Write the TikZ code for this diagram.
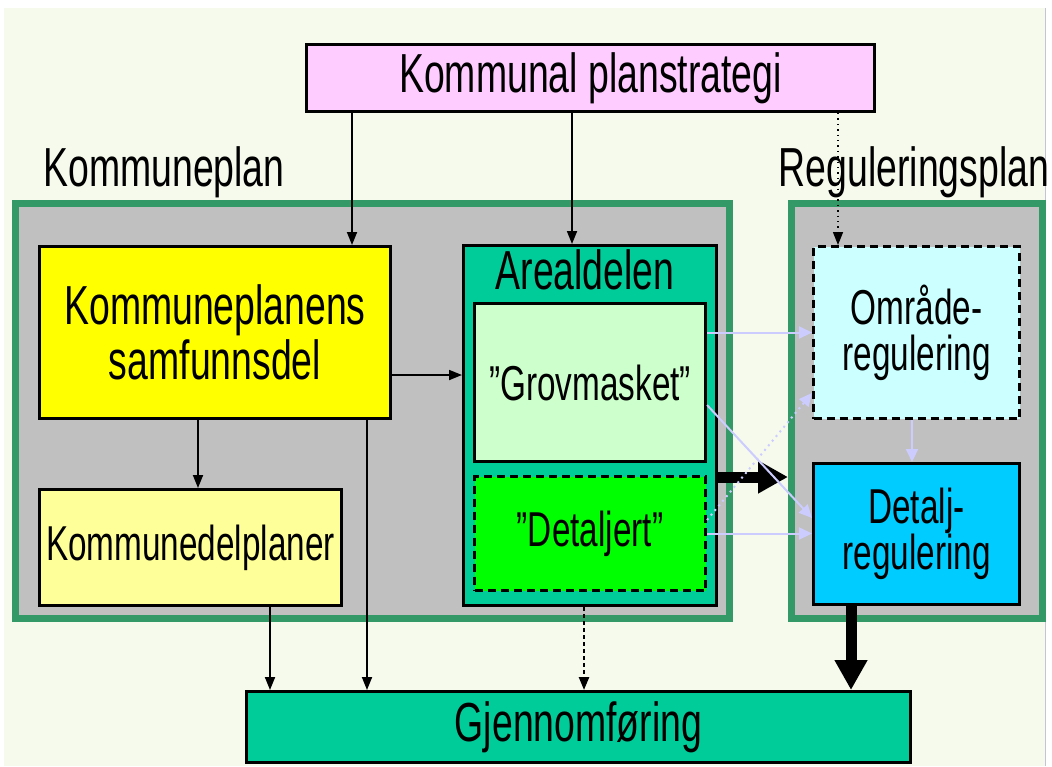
\documentclass[tikz,border=0pt]{standalone}
\usepackage{fontspec}
\setmainfont{Liberation Sans}[FakeStretch=0.68]
\usetikzlibrary{arrows.meta}

\definecolor{pagebg}{RGB}{245,250,237}
\definecolor{planpink}{HTML}{FFCCFF}
\definecolor{framegray}{HTML}{C0C0C0}
\definecolor{framegreen}{HTML}{339966}
\definecolor{samfyellow}{HTML}{FFFF00}
\definecolor{delyellow}{HTML}{FFFF99}
\definecolor{arealgreen}{HTML}{00CC99}
\definecolor{grovgreen}{HTML}{CCFFCC}
\definecolor{detgreen}{HTML}{00FF00}
\definecolor{omrcyan}{HTML}{CCFFFF}
\definecolor{detcyan}{HTML}{00CCFF}
\definecolor{lilac}{HTML}{CCCCFF}

\begin{document}
\begin{tikzpicture}[
            x = 0.5pt, y = -0.5pt, % one unit per pixel
            > = {Triangle[length=6.5pt,width=5pt]}, % arrow head style
            line width = 0.9pt,
            box/.style = {shape=rectangle,draw,line width=1.5pt,inner sep=0pt,align=center},
            frame/.style = {shape=rectangle,draw=framegreen,fill=framegray,line width=3.5pt},
            big/.style = {font=\fontsize{27.5}{27.5}\selectfont},
            small/.style = {font=\fontsize{24.5}{23}\selectfont},
            lilacarrow/.style = {draw=lilac,line width=1pt,-{Triangle[length=6.5pt,width=6pt]}},
            fat/.style = {line width=5.5pt,-{Triangle[length=15pt,width=15.5pt]}},
            dashbox/.style = {dash pattern=on 4pt off 2.5pt}
        ]
        \useasboundingbox (0,0) rectangle (1052,766);
        \fill[white] (0,0) rectangle (1052,766);
        \fill[pagebg] (4,8) rectangle (1045,766);
        \draw[line width=0.5pt,blue!15!gray!40] (1045.5,8) -- (1045.5,766);

        % outer frames
        \node[frame,minimum width=357pt,minimum height=207.5pt]   (kplan) at (372.5,411) {};
        \node[frame,minimum width=125.5pt,minimum height=207.5pt] (rplan) at (917,411)   {};
        \node[big] (kplanlabel) at (164,172) {Kommuneplan};
        \node[big] (rplanlabel) at (914,172) {Reguleringsplan};

        % boxes
        \node[box,big,fill=planpink,minimum width=284pt,minimum height=33.5pt]   (strategi) at (590.5,78)    {Kommunal planstrategi};
        \node[box,big,fill=samfyellow,minimum width=175.5pt,minimum height=86pt] (samf)     at (215,332.5)   {Kommuneplanens\\samfunnsdel};
        \node[box,small,fill=delyellow,minimum width=151pt,minimum height=58pt]  (delpl)    at (190.5,547.5) {Kommunedelplaner};
        \node[box,fill=arealgreen,minimum width=126.5pt,minimum height=180pt]    (areal)    at (590,425.5)   {};
        \node[big] (areallabel) at (585,270) {Arealdelen};
        \node[box,small,fill=grovgreen,minimum width=115.5pt,minimum height=79pt] (grov)   at (590,382.5)   {”Grovmasket”};
        \node[box,dashbox,small,fill=detgreen,minimum width=115.5pt,minimum height=57pt] (detj) at (590,533.5) {”Detaljert”};
        \node[box,dashbox,small,fill=omrcyan,minimum width=103pt,minimum height=86pt] (omr)  at (916.5,332.5) {Område-\\regulering};
        \node[box,small,fill=detcyan,minimum width=103pt,minimum height=70.5pt]  (detr)     at (916.5,534)   {Detalj-\\regulering};
        \node[box,big,fill=arealgreen,minimum width=332pt,minimum height=35.5pt] (gjen)     at (578.5,727)   {Gjennomføring};

        % black connectors
        \draw[->] (strategi.south -| 352,0) -- (samf.north -| 352,0);
        \draw[->] (strategi.south -| 572,0) -- (areal.north -| 572,0);
        \draw[->,dotted,line width=0.7pt] (strategi.south -| 838,0) -- (omr.north -| 838,0);
        \draw[->] (samf.east |- 0,375) -- (areal.west |- 0,375);
        \draw[->] (samf.south -| 198,0) -- (delpl.north -| 198,0);
        \draw[->] (samf.south -| 367,0) -- (gjen.north -| 367,0);
        \draw[->] (delpl.south -| 270,0) -- (gjen.north -| 270,0);
        \draw[->,dash pattern=on 2pt off 1.5pt,line width=1.2pt] (areal.south -| 584,0) -- (gjen.north -| 584,0);
        \draw[fat] (areal.east |- 0,477) -- (rplan.west |- 0,477);
        \draw[fat] (detr.south -| 851,0) -- (gjen.north -| 851,0);

        % lilac connectors
        \draw[lilacarrow] (grov.east |- omr.west) -- (omr.west);
        \draw[lilacarrow] (grov.east |- 0,405) -- (detr.west |- 0,518);
        \draw[lilacarrow,dotted] (detj.east |- 0,520) -- (omr.west |- 0,393);
        \draw[lilacarrow] (detj.east) -- (detj.east -| detr.west);
        \draw[lilacarrow] (omr.south -| 912,0) -- (detr.north -| 912,0);
    \end{tikzpicture}
\end{document}
